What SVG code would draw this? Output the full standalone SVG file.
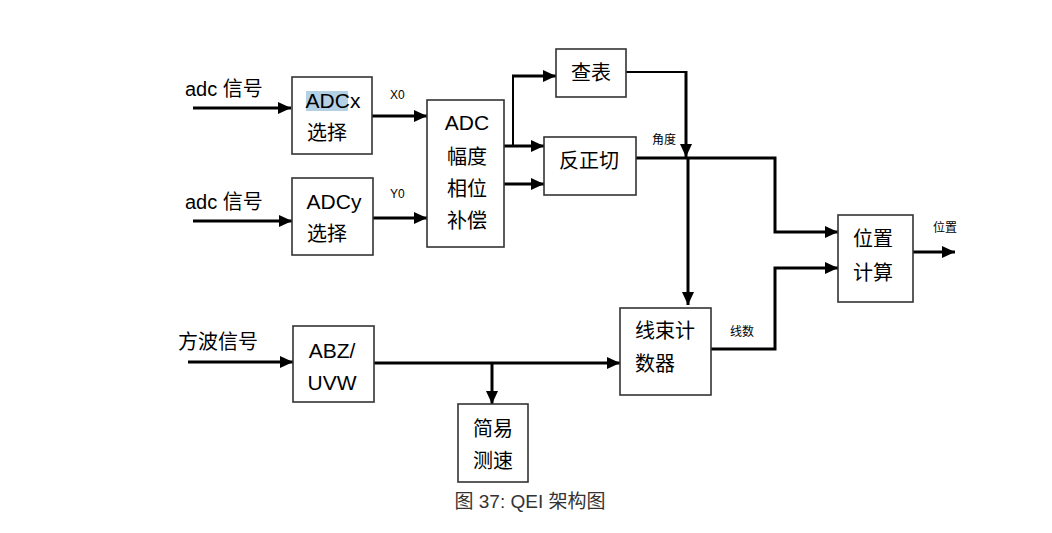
<svg xmlns="http://www.w3.org/2000/svg" width="1052" height="533" viewBox="0 0 1052 533">
<style>
.box{fill:#fff;stroke:#333;stroke-width:1.6}
.t{font-family:"Liberation Sans","Noto Sans CJK SC",sans-serif;font-size:21px;fill:#000;text-anchor:middle}
.c{font-family:"Noto Sans CJK SC",sans-serif;font-size:20px;fill:#000;text-anchor:middle}
.s{font-family:"Liberation Sans","Noto Sans CJK SC",sans-serif;font-size:12px;fill:#000}
.l{font-family:"Liberation Sans","Noto Sans CJK SC",sans-serif;font-size:20px;fill:#000}
.w{fill:none;stroke:#000;stroke-width:3}
.n{fill:none;stroke:#000;stroke-width:2}
.cap{font-family:"Liberation Sans","Noto Sans CJK SC",sans-serif;font-size:19px;fill:#333;text-anchor:middle}
</style>
<defs>
<marker id="a" markerUnits="userSpaceOnUse" markerWidth="14" markerHeight="14" viewBox="0 0 14 14" refX="13" refY="7" orient="auto">
<path d="M0,1 L13,7 L0,13 Z" fill="#000"/>
</marker>
</defs>
<rect width="1052" height="533" fill="#fff"/>
<g id="labels">
<text class="l" x="185" y="96">adc 信号</text>
<text class="l" x="185" y="209">adc 信号</text>
<text class="l" x="178" y="349">方波信号</text>
<text class="s" x="390" y="99">X0</text>
<text class="s" x="390" y="198">Y0</text>
<text class="s" x="652" y="144">角度</text>
<text class="s" x="730" y="336">线数</text>
<text class="s" x="933" y="232">位置</text>
</g>
<g id="connectors">
<path class="w" d="M193,108 H291" marker-end="url(#a)"/>
<path class="w" d="M193,221 H292" marker-end="url(#a)"/>
<path class="w" d="M372,116 H427" marker-end="url(#a)"/>
<path class="w" d="M373,218 H427" marker-end="url(#a)"/>
<path class="w" d="M504,146 H544" marker-end="url(#a)"/>
<path class="w" d="M504,184 H544" marker-end="url(#a)"/>
<path class="n" d="M513,146 V76"/>
<path class="w" d="M512,76 H556" marker-end="url(#a)"/>
<path class="n" d="M626,72 H686"/>
<path class="w" d="M686,71 V157" marker-end="url(#a)"/>
<path class="w" d="M636,158 H775 V232 H838" marker-end="url(#a)"/>
<path class="w" d="M688,158 V305" marker-end="url(#a)"/>
<path class="w" d="M711,349 H775 V268 H838" marker-end="url(#a)"/>
<path class="w" d="M913,252 H955" marker-end="url(#a)"/>
<path class="w" d="M188,362 H293" marker-end="url(#a)"/>
<path class="w" d="M374,363 H620" marker-end="url(#a)"/>
<path class="w" d="M492,363 V404" marker-end="url(#a)"/>
</g>
<g id="adcx">
<rect class="box" x="292" y="77" width="80" height="77"/>
<rect x="306" y="91" width="42" height="20" fill="#b4d0e4"/>
<text class="t" x="333" y="108">ADCx</text>
<text class="c" x="327" y="140">选择</text>
</g>
<g id="adcy">
<rect class="box" x="292" y="178" width="81" height="77"/>
<text class="t" x="334" y="209">ADCy</text>
<text class="c" x="327" y="241">选择</text>
</g>
<g id="adc">
<rect class="box" x="427" y="100" width="77" height="147"/>
<text class="t" x="467" y="130">ADC</text>
<text class="c" x="467" y="164">幅度</text>
<text class="c" x="467" y="196">相位</text>
<text class="c" x="467" y="228">补偿</text>
</g>
<g id="chabiao">
<rect class="box" x="556" y="49" width="70" height="48"/>
<text class="c" x="591" y="80">查表</text>
</g>
<g id="fanzhengqie">
<rect class="box" x="544" y="137" width="92" height="58"/>
<text class="c" x="589" y="168">反正切</text>
</g>
<g id="weizhijisuan">
<rect class="box" x="838" y="215" width="75" height="87"/>
<text class="c" x="873" y="246">位置</text>
<text class="c" x="873" y="280">计算</text>
</g>
<g id="xianshu">
<rect class="box" x="620" y="308" width="91" height="87"/>
<text class="c" x="665" y="338">线束计</text>
<text class="c" x="655" y="371">数器</text>
</g>
<g id="abz">
<rect class="box" x="293" y="326" width="81" height="76"/>
<text class="t" x="332" y="358">ABZ/</text>
<text class="t" x="332" y="390">UVW</text>
</g>
<g id="cesu">
<rect class="box" x="458" y="404" width="70" height="78"/>
<text class="c" x="493" y="436">简易</text>
<text class="c" x="493" y="468">测速</text>
</g>
<text class="cap" x="530" y="508">图 37: QEI 架构图</text>
</svg>
